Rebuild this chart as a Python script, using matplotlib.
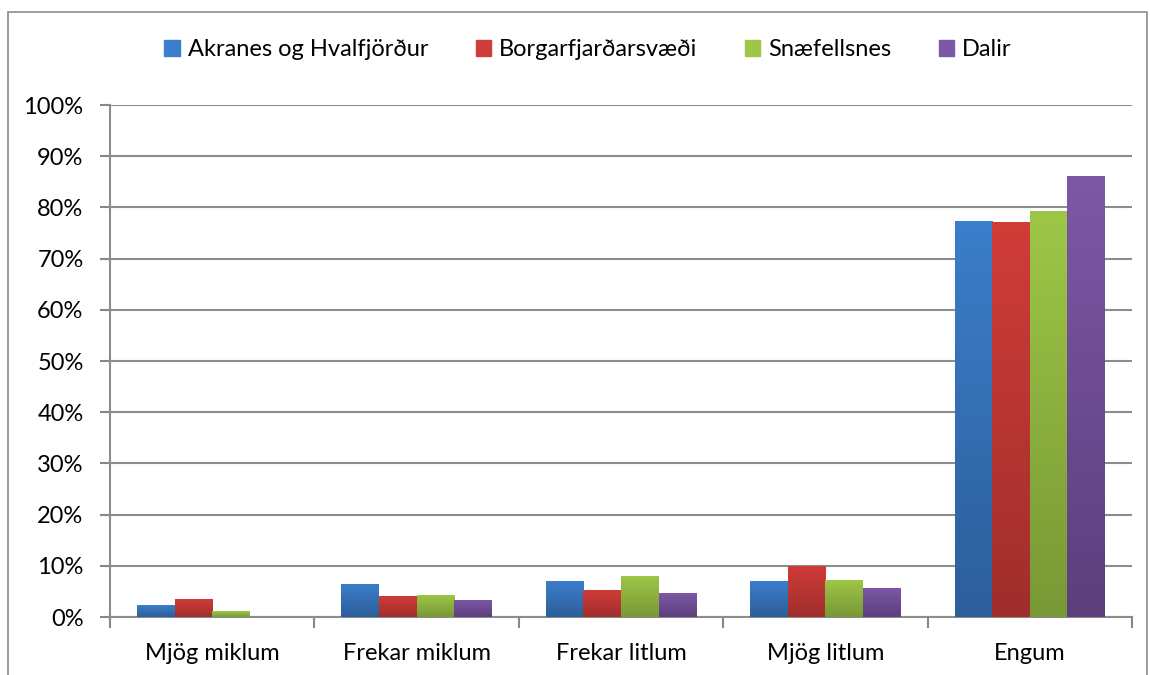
import numpy as np
import matplotlib.pyplot as plt
from matplotlib.colors import LinearSegmentedColormap
from matplotlib.patches import Rectangle

plt.rcParams['font.family'] = ['Lato', 'DejaVu Sans']

categories = ["Mjög miklum", "Frekar miklum", "Frekar litlum", "Mjög litlum", "Engum"]
series = ["Akranes og Hvalfjörður", "Borgarfjarðarsvæði", "Snæfellsnes", "Dalir"]
akranes = [2.3, 6.5, 7.0, 7.0, 77.3]
borgarfj = [3.5, 4.1, 5.2, 10.0, 77.1]
snaefellsnes = [1.1, 4.3, 8.1, 7.3, 79.3]
dalir = [0.0, 3.4, 4.6, 5.7, 86.1]
values = [akranes, borgarfj, snaefellsnes, dalir]

# top colour, bottom colour (gradient)
top_colors = ["#3c7ecb", "#d03c38", "#9ec747", "#7d58a6"]
bot_colors = ["#2c5e9a", "#a02e2c", "#789835", "#5c3f7d"]

fig = plt.figure(figsize=(11.5, 6.75), dpi=100)
ax = fig.add_axes([110 / 1150, 1 - 617 / 675, 1022 / 1150, 512 / 675])

x = np.arange(len(categories))
w = 0.184
for i, vals in enumerate(values):
    offs = (i - 1.5) * w
    bars = ax.bar(x + offs, vals, width=w, color=top_colors[i], zorder=3,
                  label=series[i], linewidth=0)
    cmap = LinearSegmentedColormap.from_list("g%d" % i, [bot_colors[i], top_colors[i]])
    grad = np.linspace(0, 1, 256).reshape(-1, 1)
    for b in bars:
        h = b.get_height()
        if h <= 0:
            continue
        x0 = b.get_x()
        im = ax.imshow(grad, cmap=cmap, origin="lower", aspect="auto",
                       extent=[x0, x0 + w, 0, h], zorder=4)
        im.set_clip_path(b)

ax.set_xlim(-0.5, len(categories) - 0.5)
ax.set_ylim(0, 100)
ax.set_yticks(np.arange(0, 101, 10))
ax.set_yticklabels(["%d%%" % v for v in range(0, 101, 10)])
ax.set_xticks(x)
ax.set_xticklabels(categories)
ax.set_xticks(np.arange(-0.5, len(categories)), minor=True)
ax.tick_params(axis="x", which="major", length=0, pad=19, labelsize=17)
ax.tick_params(axis="x", which="minor", length=8, width=1.5, color="#888888")
ax.tick_params(axis="y", length=7, width=1.5, color="#888888", labelsize=17, pad=12)
ax.yaxis.grid(True, color="#8c8c8c", linewidth=1.5, zorder=0)
ax.set_axisbelow(True)
for s in ["top", "right"]:
    ax.spines[s].set_visible(False)
for s in ["left", "bottom"]:
    ax.spines[s].set_color("#8c8c8c")
    ax.spines[s].set_linewidth(1.5)

handles = [Rectangle((0, 0), 1, 1, color=c) for c in top_colors]
fig.legend(handles, series, loc="center", bbox_to_anchor=(588 / 1150, 1 - 50 / 675),
           ncol=4, frameon=False, fontsize=17, handlelength=0.65, handleheight=0.65,
           handletextpad=0.35, columnspacing=2.0)

# outer chart border
fig.add_artist(Rectangle((8 / 1150, -0.05), 1139 / 1150, 1.05 - 12 / 675,
                         transform=fig.transFigure, fill=False,
                         edgecolor="#8c8c8c", linewidth=1.2))

fig.savefig("out.png", dpi=100)
